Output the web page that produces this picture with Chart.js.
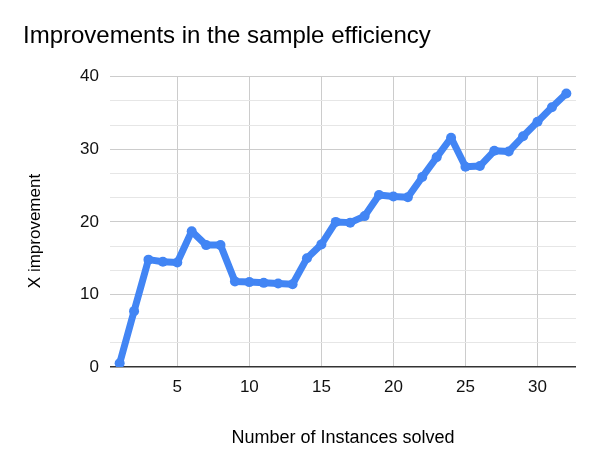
<!DOCTYPE html>
<html>
<head>
<meta charset="utf-8">
<script src="https://cdn.jsdelivr.net/npm/chart.js@4"></script>
<style>
  html, body { margin: 0; padding: 0; background: #fff; }
  #wrap { width: 600px; height: 469px; }
</style>
</head>
<body>
<div id="wrap"><canvas id="my-chart"></canvas></div>
<script>
// instances solved (x) and improvement factor (y)
const instances = [1, 2, 3, 4, 5, 6, 7, 8, 9, 10, 11, 12, 13, 14, 15, 16,
  17, 18, 19, 20, 21, 22, 23, 24, 25, 26, 27, 28, 29, 30, 31, 32];
const improvement = [0.5, 7.7, 14.8, 14.5, 14.4, 18.7, 16.8, 16.8, 11.8, 11.7, 11.6, 11.5, 11.4, 15.0, 16.9, 20.0,
  19.9, 20.8, 23.7, 23.5, 23.4, 26.2, 28.9, 31.6, 27.6, 27.7, 29.8, 29.7, 31.8, 33.8, 35.8, 37.7];
const xTicks = [5, 10, 15, 20, 25, 30];
const yTicks = [0, 10, 20, 30, 40];
const yMinorPerMajor = 3;
const yTitle = "X improvement";

const font = "'Liberation Sans', Arial, sans-serif";

let points = instances.map((x, i) => ({ x: x, y: improvement[i] }));

// y gridlines: majors plus 2 minors in between
let yGrid = [];
yTicks.forEach((v, i) => {
  yGrid.push(v);
  if (i < yTicks.length - 1) {
    for (let k = 1; k < yMinorPerMajor; k++) {
      yGrid.push(v + (yTicks[i + 1] - v) * k / yMinorPerMajor);
    }
  }
});

function isMajor(v) {
  return yTicks.some(t => Math.abs(t - v) < 1e-6);
}

// y axis title sits a bit lower than the plot centre, like the original
const yTitlePlugin = {
  id: "yTitle",
  afterDraw(chart) {
    const ctx = chart.ctx;
    ctx.save();
    ctx.translate(35, 231);
    ctx.rotate(-Math.PI / 2);
    ctx.fillStyle = "#000";
    ctx.font = "17px " + font;
    ctx.textAlign = "center";
    ctx.textBaseline = "middle";
    ctx.fillText(yTitle, 0, 0);
    ctx.restore();
  }
};

const myChart = document.getElementById("my-chart");

new Chart(myChart, {
  type: "line",
  data: {
    datasets: [{
      label: yTitle,
      data: points,
      borderColor: "#4285F4",
      backgroundColor: "#4285F4",
      borderWidth: 7,
      pointRadius: 5,
      pointHoverRadius: 5,
      pointBorderWidth: 0,
      borderJoinStyle: "round",
      borderCapStyle: "round",
      tension: 0
    }]
  },
  plugins: [yTitlePlugin],
  options: {
    responsive: true,
    maintainAspectRatio: false,
    animation: false,
    layout: {
      padding: { left: 23, right: 24, top: 0, bottom: 12 }
    },
    plugins: {
      legend: { display: false },
      tooltip: { enabled: false },
      title: {
        display: true,
        text: "Improvements in the sample efficiency",
        align: "start",
        color: "#000",
        font: { family: font, size: 24, weight: "normal" },
        padding: { top: 22, bottom: 26 }
      }
    },
    scales: {
      x: {
        type: "linear",
        min: 0.33,
        max: 32.67,
        afterBuildTicks: (scale) => {
          scale.ticks = xTicks.map(v => ({ value: v }));
        },
        afterFit: (scale) => { scale.height = 90; },
        grid: { color: "#cccccc", lineWidth: 1, drawTicks: false },
        border: { display: false },
        ticks: {
          color: "#111",
          font: { family: font, size: 17 },
          padding: 10,
          maxRotation: 0,
          callback: (v) => v
        },
        title: {
          display: true,
          text: "Number of Instances solved",
          color: "#000",
          font: { family: font, size: 18 },
          padding: { top: 0, bottom: 8 }
        }
      },
      y: {
        min: 0,
        max: 40,
        afterBuildTicks: (scale) => {
          scale.ticks = yGrid.map(v => ({ value: v }));
        },
        afterFit: (scale) => { scale.width = 87; },
        grid: {
          drawTicks: false,
          color: (ctx) => {
            let v = ctx.tick ? ctx.tick.value : 0;
            if (Math.abs(v) < 1e-6) return "#333333";
            return isMajor(v) ? "#cccccc" : "#e6e6e6";
          },
          lineWidth: (ctx) => {
            let v = ctx.tick ? ctx.tick.value : 0;
            return Math.abs(v) < 1e-6 ? 1.5 : 1;
          }
        },
        border: { display: false },
        ticks: {
          color: "#111",
          font: { family: font, size: 17 },
          padding: 11,
          autoSkip: false,
          callback: (v) => isMajor(v) ? Math.round(v) : ""
        },
        title: { display: false }
      }
    }
  }
});
</script>
</body>
</html>
